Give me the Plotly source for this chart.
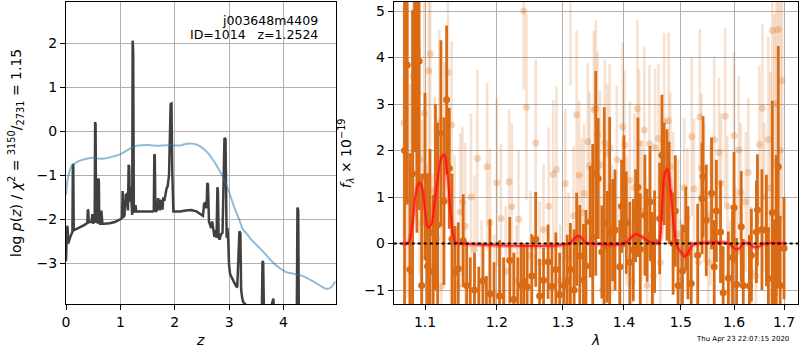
import plotly.graph_objects as go

# ---------------- left panel: redshift PDF ----------------
z_grid = [0.000, 0.010, 0.020, 0.030, 0.040, 0.060, 0.090, 0.110, 0.118, 0.126, 0.134, 0.142,
          0.200, 0.270, 0.350, 0.385, 0.393, 0.401, 0.409, 0.417, 0.470, 0.485, 0.495, 0.515,
          0.528, 0.536, 0.544, 0.554, 0.572, 0.585, 0.596, 0.604, 0.612, 0.630, 0.650, 0.660,
          0.670, 0.700, 0.800, 0.900, 0.970, 1.000, 1.030, 1.042, 1.052, 1.075, 1.100, 1.112,
          1.125, 1.140, 1.152, 1.162, 1.172, 1.190, 1.205, 1.218, 1.226, 1.236, 1.248, 1.262,
          1.280, 1.292, 1.302, 1.400, 1.500, 1.600, 1.615, 1.625, 1.633, 1.645, 1.680, 1.695,
          1.705, 1.715, 1.730, 1.745, 1.760, 1.775, 1.790, 1.810, 1.830, 1.850, 1.870, 1.895,
          1.925, 1.940, 1.955, 1.965, 1.975, 2.000, 2.100, 2.200, 2.300, 2.400, 2.480, 2.520,
          2.540, 2.560, 2.575, 2.590, 2.600, 2.612, 2.630, 2.650, 2.670, 2.690, 2.710, 2.730,
          2.750, 2.770, 2.785, 2.795, 2.808, 2.825, 2.850, 2.880, 2.915, 2.935, 2.955, 2.970,
          2.985, 3.000, 3.020, 3.040, 3.080, 3.120, 3.150, 3.190, 3.208, 3.222, 3.240, 3.260,
          3.300, 3.350, 3.400, 3.500, 3.600, 3.615, 3.628, 3.645, 3.660, 3.750, 3.815, 3.830,
          3.845, 4.000, 4.200, 4.245, 4.258, 4.272, 4.285, 4.500, 4.960]
logp = [-2.95, -2.55, -2.15, -2.20, -2.55, -2.45, -2.36, -2.31, -2.28, -0.74, -0.78, -2.25,
        -2.22, -2.17, -2.12, -2.09, -2.08, -1.78, -1.80, -2.07, -2.05, -1.88, -2.10, -2.05,
        -1.90, 0.21, 0.15, -2.08, -1.85, -2.10, -1.07, -1.12, -2.05, -2.12, -1.80, -2.10,
        -2.10, -2.10, -2.09, -2.06, -2.03, -2.00, -1.97, -1.36, -1.95, -1.92, -1.42, -1.70,
        -1.40, -1.80, -0.76, -0.80, -1.60, -1.27, -1.60, -1.90, 2.06, 1.80, -1.82, -1.84,
        -1.68, -1.84, -1.82, -1.82, -1.82, -1.82, -1.80, -0.52, -0.55, -1.83, -1.78, -1.52,
        -1.72, -1.55, -1.80, -1.55, -1.62, -1.78, -1.50, -1.58, -1.40, -1.30, -1.25, -1.00,
        0.62, 0.63, -0.90, -1.60, -1.82, -1.82, -1.82, -1.80, -1.79, -1.82, -1.88, -1.92,
        -1.65, -1.62, -1.75, -1.55, -1.17, -1.22, -2.05, -2.15, -2.20, -2.05, -2.30, -2.40,
        -2.25, -2.42, -1.27, -1.35, -2.40, -2.46, -2.35, -2.30, -0.15, -0.18, -2.42, -2.20,
        -2.50, -3.05, -3.25, -3.30, -3.42, -3.50, -3.55, -2.27, -2.32, -3.60, -3.78, -3.88,
        -3.93, -4.00, -4.20, -4.40, -4.40, -2.95, -2.98, -4.50, -4.20, -4.10, -3.80, -4.30,
        -4.50, -4.50, -4.50, -4.30, -1.73, -1.80, -4.50, -5.00, -5.00]

z_chi = [0.00, 0.03, 0.06, 0.10, 0.20, 0.30, 0.50, 0.60, 0.70, 0.90, 1.00, 1.10, 1.20, 1.30,
         1.50, 1.70, 1.80, 2.00, 2.10, 2.20, 2.30, 2.40, 2.50, 2.60, 2.70, 2.80, 2.90, 3.00,
         3.10, 3.20, 3.25, 3.32, 3.40, 3.60, 3.80, 3.90, 4.05, 4.20, 4.36, 4.60, 4.79, 4.87,
         4.96]
chi_scaled = [-1.45, -1.10, -0.92, -0.80, -0.70, -0.65, -0.60, -0.62, -0.62, -0.56, -0.52,
              -0.45, -0.38, -0.33, -0.31, -0.33, -0.32, -0.32, -0.32, -0.29, -0.28, -0.30,
              -0.37, -0.48, -0.64, -0.84, -1.07, -1.38, -1.74, -2.05, -2.22, -2.32, -2.45,
              -2.70, -2.97, -3.08, -3.20, -3.24, -3.29, -3.45, -3.58, -3.55, -3.40]

# ---------------- right panel: 1D spectrum ----------------
# grism A: wavelength (micron), flux, 1-sigma error
lam_a = [1.0730, 1.0765, 1.0800, 1.0835, 1.0862, 1.0892, 1.0921, 1.0955, 1.1000, 1.1033,
         1.1066, 1.1110, 1.1140, 1.1170, 1.1214, 1.1255, 1.1292, 1.1328, 1.1365, 1.1405,
         1.1452, 1.1521, 1.1570, 1.1620, 1.1680, 1.1740, 1.1800, 1.1850, 1.1900, 1.1960,
         1.2040, 1.2100, 1.2190, 1.2250, 1.2310, 1.2360, 1.2400, 1.2450, 1.2520, 1.2580,
         1.2640, 1.2700, 1.2770, 1.2830, 1.2890, 1.2950, 1.3020, 1.3070, 1.3120, 1.3180,
         1.3220, 1.3270, 1.3330, 1.3370, 1.3440, 1.3480, 1.3530, 1.3570, 1.3630, 1.3670,
         1.3720, 1.3760, 1.3810, 1.3850, 1.3930, 1.3960, 1.4000, 1.4040, 1.4100, 1.4160,
         1.4200, 1.4240, 1.4280, 1.4360, 1.4400, 1.4450, 1.4490, 1.4530, 1.4620, 1.4660,
         1.4700, 1.4750, 1.4790, 1.4860, 1.4900, 1.4950, 1.5030, 1.5090, 1.5130, 1.5190,
         1.5310, 1.5390, 1.5410, 1.5470, 1.5570, 1.5620, 1.5660, 1.5740, 1.5790, 1.5890,
         1.5970, 1.6000, 1.6050, 1.6140, 1.6180, 1.6300, 1.6340, 1.6440, 1.6460, 1.6550,
         1.6640, 1.6680, 1.6760, 1.6800, 1.6840, 1.6880, 1.6920, 1.7000]
flux_a = [2.00, 3.84, -0.56, 1.50, 4.97, 3.23, 3.92, -0.90, 1.44, -0.49,
          0.24, -0.60, 1.00, 0.40, 2.37, 0.91, 3.09, 1.62, 0.10, -0.62,
          -0.54, 0.06, -0.90, -1.40, -1.00, -1.50, -0.80, -1.60, -1.08, -1.40,
          -1.13, -1.50, -0.36, -1.20, -1.40, -0.90, -0.81, -0.93, -0.70, 0.09,
          -1.13, -0.79, -0.39, -0.92, -0.56, -1.10, -0.90, -0.81, -0.56, -1.00,
          0.09, -0.27, -0.78, -0.48, 0.47, 0.14, 1.51, 1.40, -0.18, 0.43,
          -0.07, 0.22, 0.29, 0.29, -0.50, 0.80, 1.13, 0.45, -0.40, -0.14,
          0.60, 1.21, -0.12, 0.61, 0.18, 0.90, -0.32, 0.04, 0.54, 1.90,
          1.50, 1.26, 1.09, 0.00, 0.70, -0.90, -0.59, 0.32, -0.20, -0.86,
          -0.25, 0.97, 1.44, 0.50, 1.08, -0.50, 0.70, 0.25, -1.06, -0.74,
          -0.30, 0.77, -0.88, 0.36, -0.90, -0.91, -0.25, 0.25, 0.72, 0.30,
          0.28, -0.75, 0.67, -1.08, -0.10, 1.65, -0.90, -0.10]
err_a = [3.5, 3.0, 2.5, 3.5, 3.0, 3.0, 3.2, 2.4, 1.8, 2.0,
         1.8, 1.6, 2.0, 2.2, 2.0, 1.8, 1.6, 1.3, 1.4, 1.0,
         1.0, 1.0, 0.9, 1.1, 0.8, 1.0, 0.8, 0.9, 1.6, 1.0,
         1.2, 1.2, 0.93, 1.0, 1.1, 0.9, 0.8, 0.9, 0.9, 1.02,
         0.8, 0.7, 0.8, 0.9, 0.8, 0.9, 0.9, 1.0, 1.0, 1.3,
         1.0, 1.1, 1.2, 1.2, 1.2, 2.0, 2.2, 1.3, 1.0, 2.5,
         1.2, 2.5, 1.1, 1.3, 1.0, 1.0, 1.2, 1.1, 1.3, 1.1,
         1.0, 1.5, 1.2, 1.3, 1.0, 1.2, 1.0, 1.1, 1.2, 1.3,
         1.1, 1.2, 1.1, 1.1, 1.2, 1.0, 1.0, 0.9, 1.0, 0.9,
         1.1, 1.2, 1.3, 1.2, 1.2, 1.0, 1.1, 1.1, 1.0, 1.0,
         1.0, 1.2, 1.0, 1.2, 1.0, 1.1, 1.0, 1.1, 1.2, 1.3,
         1.2, 1.1, 2.4, 1.6, 2.0, 2.6, 1.5, 1.1]

# grism B: wavelength (micron), flux, 1-sigma error
lam_b = [1.0720, 1.0760, 1.0800, 1.0840, 1.0870, 1.0900, 1.0930, 1.0960, 1.0990, 1.1020,
         1.1050, 1.1070, 1.1100, 1.1130, 1.1160, 1.1190, 1.1220, 1.1260, 1.1310, 1.1360,
         1.1400, 1.1440, 1.1480, 1.1510, 1.1550, 1.1630, 1.1680, 1.1720, 1.1780, 1.1860,
         1.1900, 1.1960, 1.2000, 1.2060, 1.2130, 1.2180, 1.2220, 1.2290, 1.2320, 1.2400,
         1.2440, 1.2500, 1.2580, 1.2640, 1.2700, 1.2780, 1.2850, 1.2900, 1.2960, 1.3040,
         1.3090, 1.3120, 1.3170, 1.3220, 1.3260, 1.3300, 1.3340, 1.3400, 1.3430, 1.3500,
         1.3530, 1.3560, 1.3600, 1.3640, 1.3680, 1.3720, 1.3760, 1.3800, 1.3880, 1.3930,
         1.3980, 1.4010, 1.4050, 1.4100, 1.4140, 1.4180, 1.4230, 1.4260, 1.4300, 1.4350,
         1.4400, 1.4440, 1.4510, 1.4540, 1.4600, 1.4630, 1.4700, 1.4780, 1.4810, 1.4860,
         1.4950, 1.5000, 1.5060, 1.5120, 1.5200, 1.5240, 1.5320, 1.5350, 1.5380, 1.5430,
         1.5510, 1.5550, 1.5620, 1.5710, 1.5750, 1.5830, 1.5870, 1.5920, 1.6000, 1.6040,
         1.6090, 1.6130, 1.6230, 1.6280, 1.6330, 1.6430, 1.6500, 1.6560, 1.6600, 1.6680,
         1.6720, 1.6760, 1.6800, 1.6840, 1.6880, 1.6920, 1.6960]
flux_b = [2.60, 1.63, 0.93, 3.60, 3.16, 4.13, 1.81, 0.45, 2.80, -0.29,
          3.71, 4.08, -0.50, 1.15, 0.11, 2.60, -0.92, 1.90, 3.68, 2.55,
          0.30, -0.90, 0.68, 0.90, 0.37, 1.00, -0.13, 1.83, -0.90, 1.65,
          0.45, -1.10, 1.31, 0.54, -0.60, 1.33, 0.79, -0.80, 0.52, 5.00,
          2.93, -0.27, 2.16, -0.40, 0.30, 0.80, 1.49, 1.59, -0.80, 1.29,
          -0.30, 5.30, 0.60, 2.77, 1.47, 0.67, 1.08, 2.19, 1.67, 2.87,
          2.90, 2.33, 1.69, -1.00, 2.16, 1.94, 2.06, 0.30, 1.80, -0.50,
          2.51, 2.12, 0.50, 1.36, -0.80, 1.20, 2.90, 2.16, 0.70, 2.44,
          -0.90, 2.14, -0.70, 2.06, 2.26, -0.40, 2.62, 2.64, 1.65, 0.90,
          0.20, -0.80, 1.20, 0.55, 2.30, 1.18, -0.40, 2.72, 1.62, 1.09,
          -0.40, 0.60, 2.23, 1.96, 1.30, 2.74, 0.80, -0.80, 2.32, -0.20,
          2.01, 1.10, 0.90, 1.53, -0.60, -0.70, 2.13, 2.91, 1.00, 2.24,
          1.20, 4.58, 1.74, 3.00, 4.60, 2.00, 3.50]
err_b = [2.5, 2.8, 2.5, 2.8, 2.6, 2.5, 2.5, 2.2, 2.4, 2.0,
         2.2, 2.0, 2.0, 2.0, 2.0, 2.0, 1.6, 2.0, 1.8, 1.8,
         1.6, 1.2, 1.7, 1.6, 1.8, 1.8, 1.6, 1.9, 1.4, 1.8,
         1.6, 1.3, 1.8, 1.6, 1.4, 1.55, 1.8, 1.2, 1.5, 1.7,
         2.0, 1.4, 1.8, 1.3, 1.4, 1.7, 1.6, 1.8, 1.2, 1.6,
         1.4, 1.9, 1.5, 1.8, 1.6, 1.6, 1.5, 1.7, 1.6, 1.7,
         1.9, 1.8, 1.6, 1.3, 1.8, 1.5, 1.8, 1.4, 1.6, 1.3,
         1.8, 1.6, 1.4, 1.7, 1.3, 1.6, 1.9, 1.6, 1.5, 1.8,
         1.4, 1.7, 1.3, 1.7, 1.6, 1.3, 1.9, 1.9, 1.6, 1.5,
         1.6, 1.3, 1.5, 1.5, 1.7, 1.5, 1.3, 1.9, 1.6, 1.5,
         1.3, 1.5, 1.8, 1.6, 1.5, 1.9, 1.5, 1.3, 1.8, 1.4,
         1.6, 1.5, 1.5, 1.6, 1.4, 1.3, 1.7, 1.8, 1.6, 2.2,
         2.5, 3.0, 3.2, 3.5, 3.0, 3.2, 3.0]

# best-fit line model
lam_model = [1.070, 1.078, 1.083, 1.088, 1.092, 1.096, 1.100, 1.104, 1.108, 1.113, 1.118,
             1.122, 1.126, 1.130, 1.134, 1.138, 1.142, 1.150, 1.310, 1.318, 1.324, 1.330,
             1.336, 1.345, 1.400, 1.410, 1.420, 1.430, 1.440, 1.450, 1.460, 1.466, 1.471,
             1.476, 1.481, 1.487, 1.493, 1.500, 1.507, 1.513, 1.520, 1.530, 1.590, 1.597,
             1.604, 1.611, 1.618, 1.630, 1.638, 1.645, 1.652, 1.660, 1.703]
flux_model = [0.00, 0.02, 0.40, 1.10, 1.30, 1.20, 0.70, 0.35, 0.40, 0.90, 1.50,
              1.85, 1.90, 1.50, 0.80, 0.20, 0.02, 0.00, 0.00, 0.10, 0.17, 0.12,
              0.02, 0.00, 0.00, 0.10, 0.20, 0.15, 0.07, 0.02, 0.02, 0.70, 1.50,
              1.60, 1.20, 0.40, -0.05, -0.18, -0.28, -0.20, -0.05, 0.00, 0.00, -0.07,
              -0.12, -0.10, 0.00, 0.00, -0.07, -0.08, -0.05, 0.00, 0.00]

ORANGE = "#d96b14"
FONT = "DejaVu Sans"

fig = go.Figure()

fig.add_trace(go.Scatter(x=z_grid, y=logp, mode="lines",
                         line=dict(color="#404040", width=2.5),
                         xaxis="x", yaxis="y", showlegend=False))
fig.add_trace(go.Scatter(x=z_chi, y=chi_scaled, mode="lines", line_shape="spline",
                         line=dict(color="rgba(31,119,180,0.5)", width=2),
                         xaxis="x", yaxis="y", showlegend=False))

fig.add_trace(go.Scatter(x=lam_b, y=flux_b, mode="markers",
                         marker=dict(color="rgba(217,107,20,0.28)", size=7, line=dict(width=0)),
                         error_y=dict(type="data", array=err_b, visible=True, width=0,
                                      thickness=2.6, color="rgba(217,107,20,0.2)"),
                         xaxis="x2", yaxis="y2", showlegend=False))
fig.add_trace(go.Scatter(x=lam_a, y=flux_a, mode="markers",
                         marker=dict(color=ORANGE, size=7, line=dict(width=0)),
                         error_y=dict(type="data", array=err_a, visible=True, width=0,
                                      thickness=2.8, color=ORANGE),
                         xaxis="x2", yaxis="y2", showlegend=False))
fig.add_trace(go.Scatter(x=lam_model, y=flux_model, mode="lines", line_shape="spline",
                         line=dict(color="rgba(255,60,60,0.35)", width=5),
                         xaxis="x2", yaxis="y2", showlegend=False))
fig.add_trace(go.Scatter(x=lam_model, y=flux_model, mode="lines", line_shape="spline",
                         line=dict(color="rgba(255,0,0,0.7)", width=2),
                         xaxis="x2", yaxis="y2", showlegend=False))

axis_common = dict(showgrid=True, gridcolor="#b0b0b0", gridwidth=1,
                   showline=True, linecolor="black", linewidth=1, mirror=True,
                   ticks="outside", ticklen=5, tickcolor="black", zeroline=False,
                   tickfont=dict(family=FONT, size=14, color="black"))

fig.update_layout(
    width=800, height=350, margin=dict(l=0, r=0, t=0, b=0),
    paper_bgcolor="white", plot_bgcolor="white",
    font=dict(family=FONT, color="black"),
    xaxis=dict(domain=[0.0779, 0.4166], range=[0, 4.96], tickvals=[0, 1, 2, 3, 4],
               anchor="y", **axis_common),
    yaxis=dict(domain=[0.1314, 0.9951], range=[-3.925, 2.945],
               tickvals=[-3, -2, -1, 0, 1, 2], anchor="x", **axis_common),
    xaxis2=dict(domain=[0.4896, 0.9975], type="log", range=[0.0249, 0.2378],
                tickvals=[1.1, 1.2, 1.3, 1.4, 1.5, 1.6, 1.7],
                ticktext=["1.1", "1.2", "1.3", "1.4", "1.5", "1.6", "1.7"],
                anchor="y2", **axis_common),
    yaxis2=dict(domain=[0.1314, 0.9951], range=[-1.30, 5.20],
                tickvals=[-1, 0, 1, 2, 3, 4, 5], anchor="x2", **axis_common),
)

# zero level in the spectrum panel
fig.add_shape(type="line", xref="x2 domain", yref="y2", x0=0, x1=1, y0=0, y1=0,
              line=dict(color="black", width=2, dash="dot"), layer="above")

annotations = [
    dict(text="j003648m4409", x=318 / 800, y=1 - 20 / 350, xanchor="right", yanchor="middle",
         font=dict(size=12.5)),
    dict(text="ID=1014   z=1.2524", x=318 / 800, y=1 - 34 / 350, xanchor="right",
         yanchor="middle", font=dict(size=12.5)),
    dict(text="log <i>p</i>(<i>z</i>) / <i>χ</i><sup>2</sup> = <sup>3150</sup>/<sub>2731</sub> = 1.15",
         x=12 / 800, y=1 - 153 / 350, textangle=-90, xanchor="center", yanchor="middle",
         font=dict(size=14)),
    dict(text="<i>f</i><sub><i>λ</i></sub> × 10<sup>−19</sup>",
         x=344 / 800, y=1 - 153 / 350, textangle=-90, xanchor="center", yanchor="middle",
         font=dict(size=14)),
    dict(text="<i>z</i>", x=197 / 800, y=1 - 340 / 350, xanchor="center", yanchor="middle",
         font=dict(size=14)),
    dict(text="<i>λ</i>", x=594 / 800, y=1 - 340 / 350, xanchor="center", yanchor="middle",
         font=dict(size=14)),
    dict(text="Thu Apr 23 22:07:15 2020", x=742 / 800, y=1 - 339 / 350, xanchor="center",
         yanchor="middle", font=dict(size=7)),
]
for a in annotations:
    a.update(xref="paper", yref="paper", showarrow=False)
    a["font"] = dict(family=FONT, color="black", **a["font"])
fig.update_layout(annotations=annotations)

fig.write_html("out.html")
